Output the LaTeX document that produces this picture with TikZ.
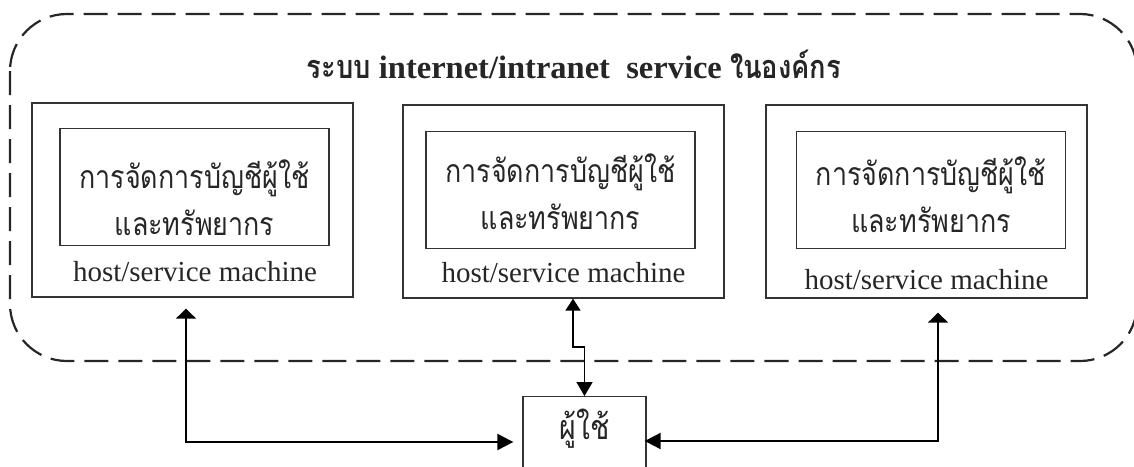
\documentclass[tikz,border=0pt]{standalone}
\usepackage{fontspec}
\setmainfont{Liberation Serif}
\newfontfamily\thaifont[Script=Thai, FakeStretch=0.84]{Loma}
\usetikzlibrary{arrows.meta}
\begin{document}
\begin{tikzpicture}[x=1pt,y=-1pt,
  outerbox/.style={draw=black!80, line width=1.3pt, inner sep=0pt, minimum width=321pt, minimum height=193pt},
  innerbox/.style={draw=black!80, line width=1.3pt, inner sep=0pt, minimum width=269pt, minimum height=117pt},
  thaitext/.style={font=\thaifont\fontsize{32}{47}\selectfont, align=center, text=black!85},
  hosttext/.style={font=\fontsize{29}{34}\selectfont, text=black!85},
  link/.style={line width=2pt, black},
]
\useasboundingbox (0,0) rectangle (1134,466);
\clip (0,0) rectangle (1134,466);

% organisation boundary
\draw[line width=2.2pt, black!85, dash pattern=on 24pt off 10pt, rounded corners=57pt]
  (10,14) rectangle (1137,361);
\node[anchor=base, font=\bfseries\fontsize{32.5}{38}\selectfont, text=black!85] (title) at (574,78)
  {{\thaifont ระบบ} internet/intranet\ \ service {\thaifont ในองค์กร}};

% host machines
\node[outerbox, minimum height=194pt] (hostL) at (192.5,200) {};
\node[innerbox] (accL) at (194.5,187) {};
\node[thaitext] (accLt) at (194.5,197.5) {การจัดการบัญชีผู้ใช้\\และทรัพยากร};
\node[hosttext] (hostLt) at (195,272) {host/service machine};

\node[outerbox] (hostM) at (563.5,201.5) {};
\node[innerbox] (accM) at (560.5,190) {};
\node[thaitext] (accMt) at (560.5,192) {การจัดการบัญชีผู้ใช้\\และทรัพยากร};
\node[hosttext] (hostMt) at (563.5,273) {host/service machine};

\node[outerbox] (hostR) at (926.5,201.5) {};
\node[innerbox] (accR) at (931,190) {};
\node[thaitext] (accRt) at (931,194.5) {การจัดการบัญชีผู้ใช้\\และทรัพยากร};
\node[hosttext] (hostRt) at (926.5,280) {host/service machine};

% user
\node[draw=black!80, line width=1.3pt, minimum width=123pt, minimum height=90pt, anchor=north] (user) at (584.5,396) {};
\node[font=\thaifont\fontsize{34}{38}\selectfont, text=black!85] (usert) at (584.5,429) {ผู้ใช้};

% connectors
\coordinate (lc) at (186,442);
\coordinate (rc) at (938,441);
\coordinate (mc1) at (573,347);
\coordinate (mc2) at (584.5,347);

\draw[link, {Triangle[width=20pt,length=10pt]}-{Triangle[width=16pt,length=16pt]}, shorten <=11pt, shorten >=9pt]
  (hostL.south -| lc) -- (lc) -- (lc -| user.west);
\draw[link, {Triangle[width=20pt,length=10pt]}-{Triangle[width=16pt,length=16pt]}, shorten <=14pt, shorten >=-2pt]
  (hostR.south -| rc) -- (rc) -- (rc -| user.east);
\draw[line width=1.6pt, {Triangle[width=15pt,length=12pt]}-{Triangle[width=16pt,length=14pt]}]
  (hostM.south -| mc1) -- (mc1) -- (mc2) -- (user.north);
\end{tikzpicture}
\end{document}
